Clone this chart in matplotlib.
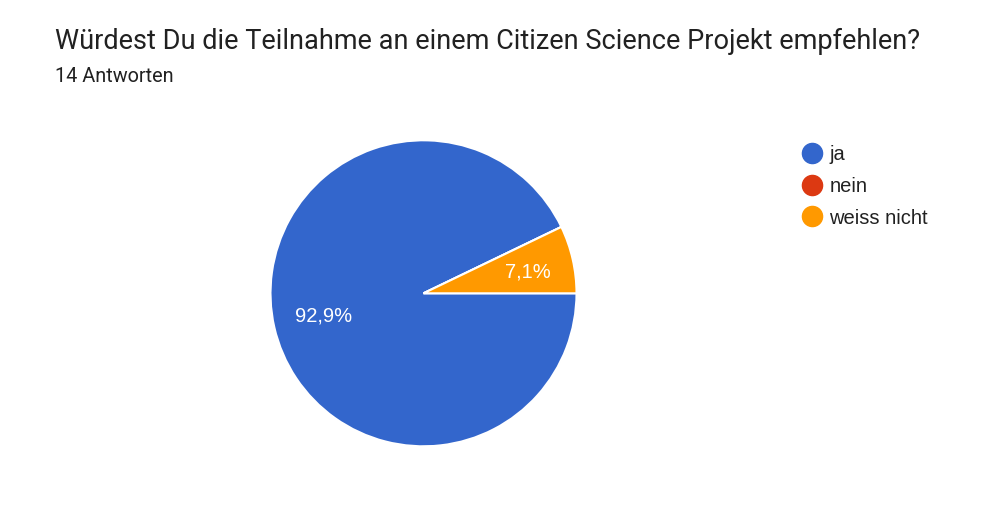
import matplotlib
matplotlib.use("Agg")
import matplotlib.pyplot as plt
from matplotlib.lines import Line2D

# data from the survey
title = "Würdest Du die Teilnahme an einem Citizen Science Projekt empfehlen?"
subtitle = "14 Antworten"
labels = ["ja", "nein", "weiss nicht"]
counts = [13, 0, 1]
colors = ["#3366cc", "#dc3912", "#ff9900"]


def fmt_pct(p):
    if p < 0.05:
        return ""
    return ("%.1f" % p).replace(".", ",") + "%"


fig = plt.figure(figsize=(10, 5.13), dpi=100)
fig.patch.set_facecolor("white")

# pie area: centre (424, 293) px, radius 153 px
cx, cy, r = 423.5, 293.3, 153.0
ax = fig.add_axes([(cx - r) / 1000, (513 - cy - r) / 513, 2 * r / 1000, 2 * r / 513])
wedges, texts, autotexts = ax.pie(
    counts, colors=colors, startangle=0, counterclock=False,
    autopct=fmt_pct, pctdistance=0.7,
    wedgeprops=dict(edgecolor="white", linewidth=1.5),
    textprops=dict(color="white", fontsize=14.5, family=["Liberation Sans", "DejaVu Sans"]))
ax.set_xlim(-1, 1)
ax.set_ylim(-1, 1)
ax.set_aspect("equal")

# google places the big label off the wedge middle
autotexts[0].set_position((-0.652, -0.148))
autotexts[2].set_position((0.684, 0.139))
for t in autotexts:
    t.set_ha("center")
    t.set_va("center")

fig.text(55 / 1000, 1 - 49 / 513, title, fontsize=19.5,
         family=["Roboto", "DejaVu Sans"], color="#212121", va="baseline")
fig.text(55 / 1000, 1 - 82 / 513, subtitle, fontsize=14.3,
         family=["Roboto", "DejaVu Sans"], color="#212121", va="baseline")

handles = [Line2D([], [], marker="o", ls="", markersize=14.5, color=c) for c in colors]
leg = fig.legend(handles, labels, loc="upper left", bbox_to_anchor=(0.784, 1 - 127 / 513),
                 frameon=False, handlelength=1.0, handletextpad=0.35, labelspacing=0.63,
                 prop=dict(family=["Liberation Sans", "DejaVu Sans"], size=14.5))
for t in leg.get_texts():
    t.set_color("#212121")

fig.savefig("out.png", dpi=100, facecolor="white")
